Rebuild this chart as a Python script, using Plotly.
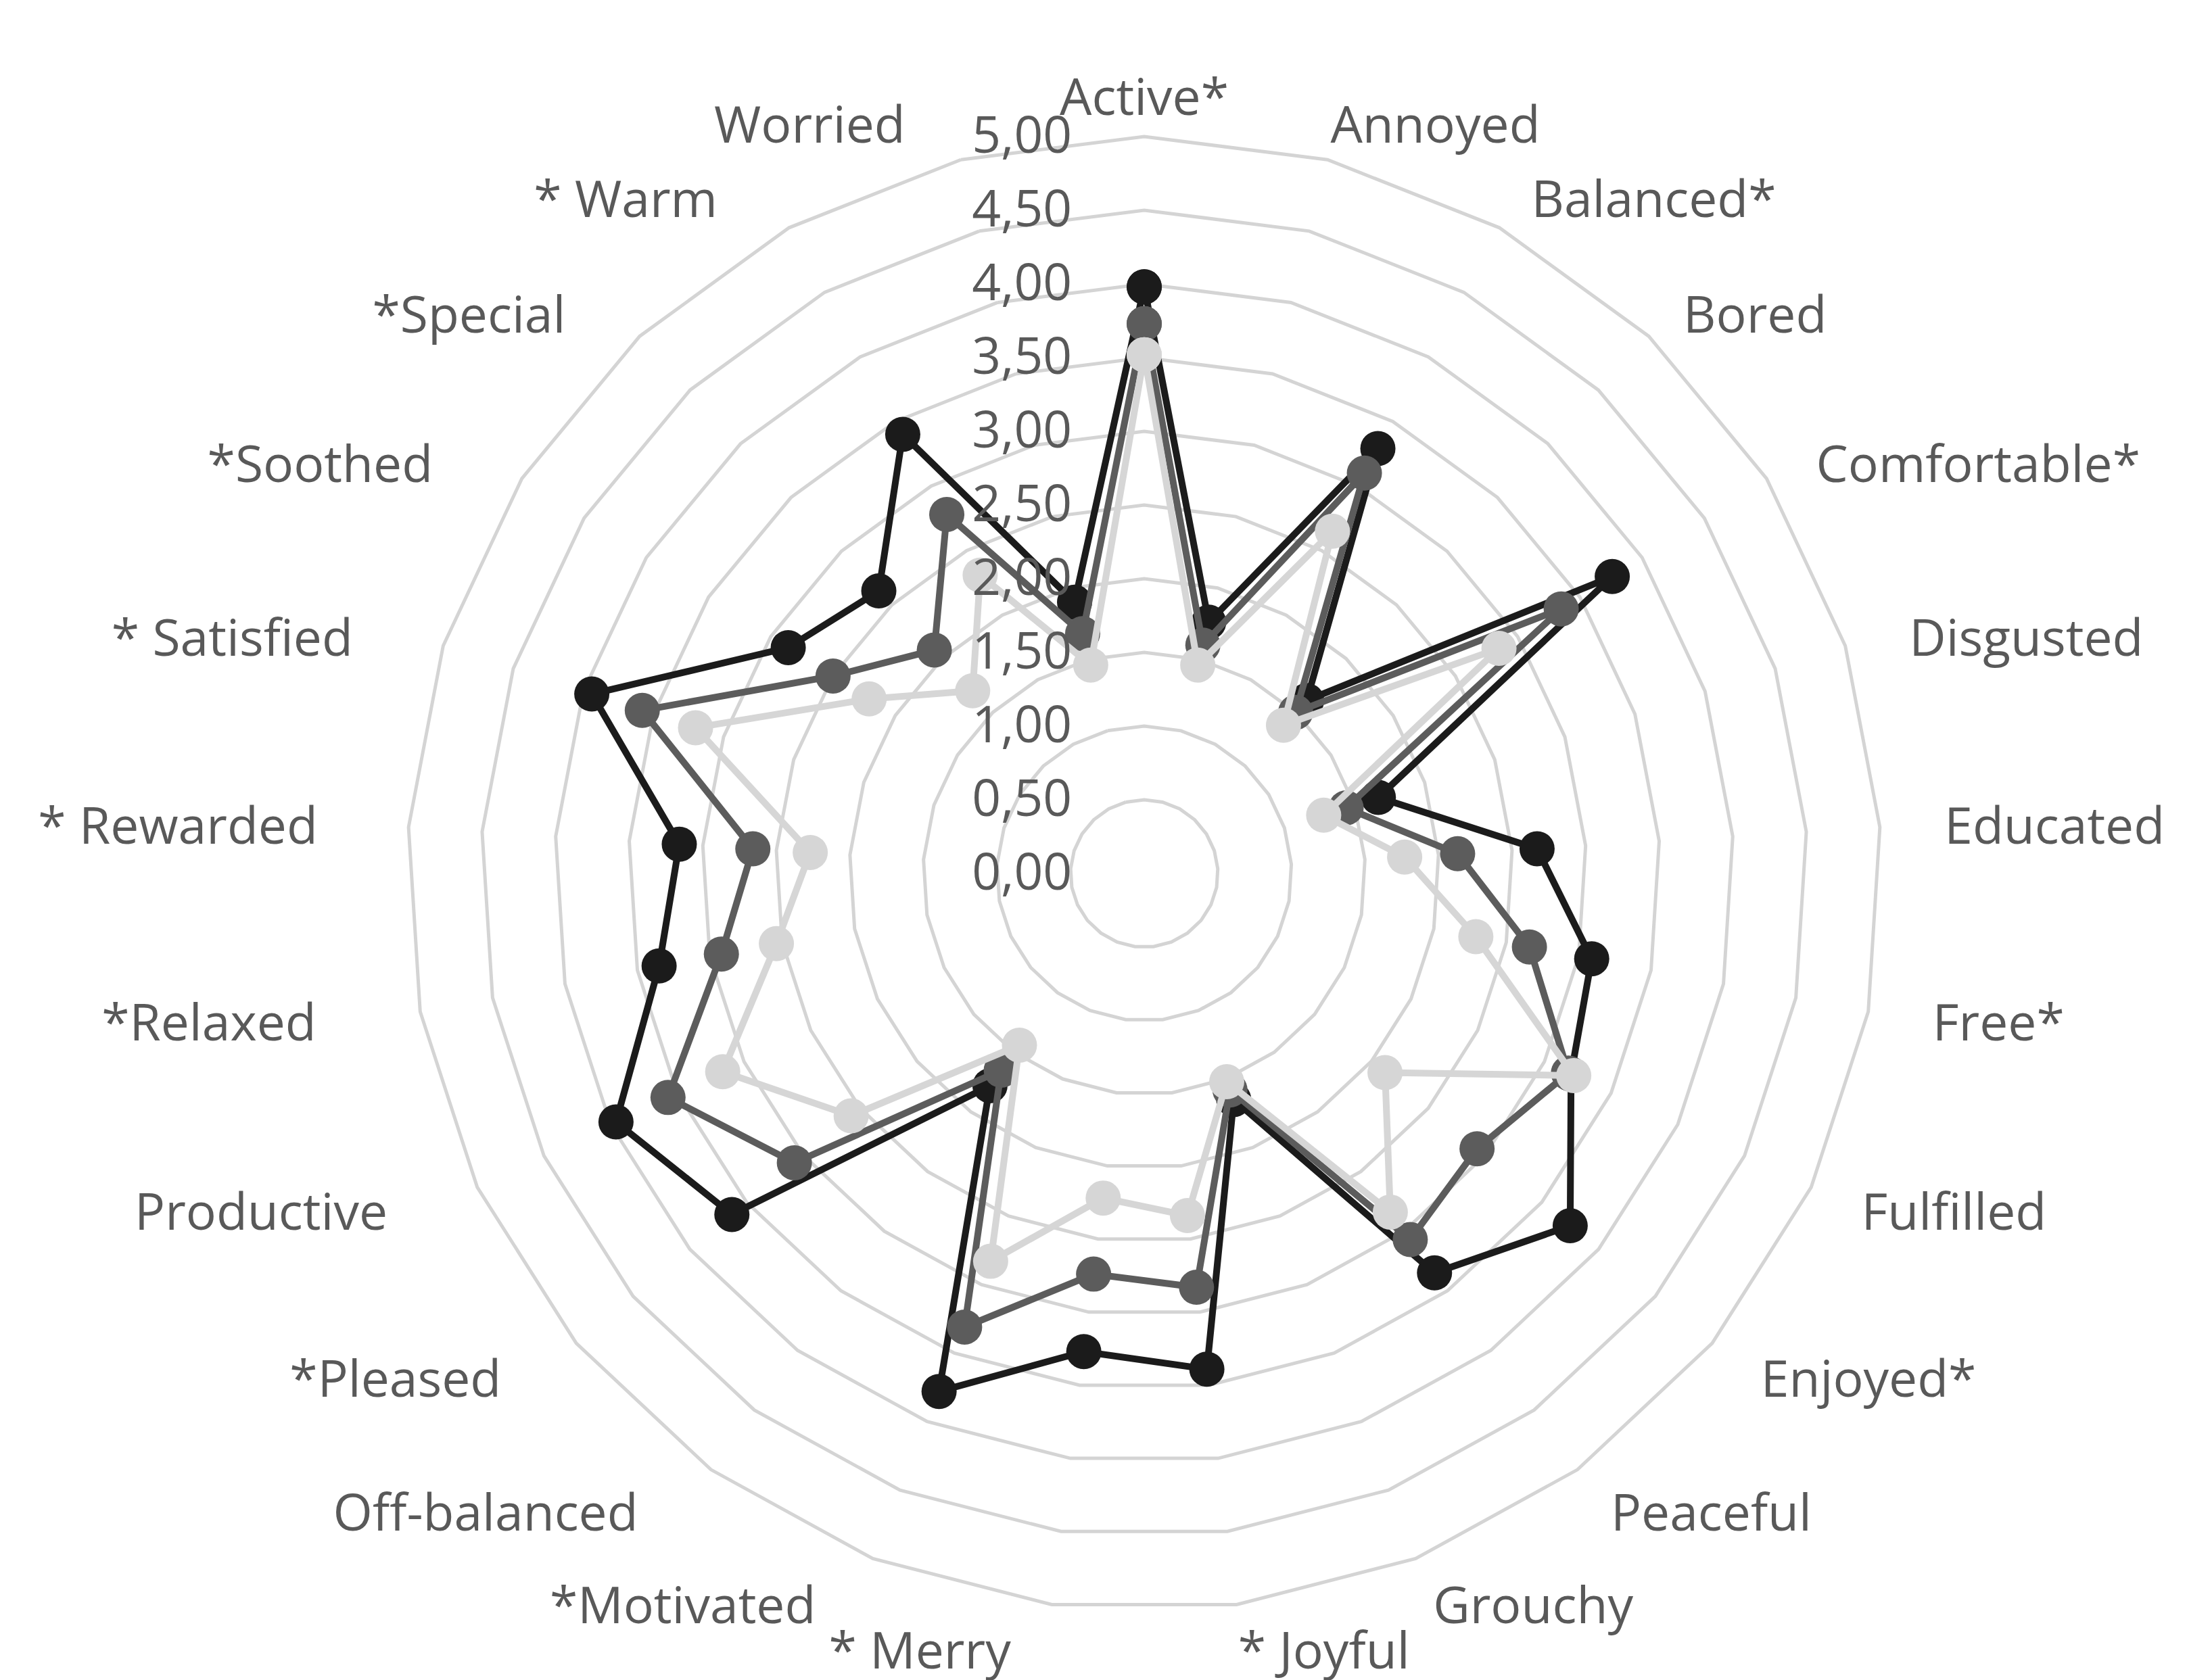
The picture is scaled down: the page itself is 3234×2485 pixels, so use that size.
import plotly.graph_objects as go

categories = ["Active", "Annoyed", "Balanced", "Bored", "Comfortable", "Disgusted",
              "Educated", "Free", "Fulfilled", "Enjoyed", "Peaceful", "Grouchy",
              "Joyful", "Merry", "Motivated", "Off-balanced", "Pleased", "Productive",
              "Relaxed", "Rewarded", "Satisfied", "Soothed", "Special", "Warm", "Worried"]

category_labels = ["Active*", "Annoyed", "Balanced*", "Bored", "Comfortable*", "Disgusted",
                   "Educated", "Free*", "Fulfilled", "Enjoyed*", "Peaceful", "Grouchy",
                   "* Joyful", "* Merry", "*Motivated", "Off-balanced", "*Pleased", "Productive",
                   "*Relaxed", "* Rewarded", "* Satisfied", "*Soothed", "*Special", "* Warm", "Worried"]

series_black = [3.98, 1.76, 3.29, 1.61, 3.76, 1.67, 2.67, 3.09, 3.20, 3.75, 3.35, 1.65,
                3.39, 3.27, 3.78, 1.78, 3.63, 3.96, 3.35, 3.16, 3.94, 2.86, 2.63, 3.40, 1.90]
series_dark = [3.73, 1.60, 3.10, 1.50, 3.35, 1.44, 2.13, 2.66, 3.18, 2.93, 3.07, 1.58,
               2.83, 2.74, 3.31, 1.65, 3.08, 3.57, 2.92, 2.66, 3.58, 2.50, 2.08, 2.78, 1.68]
series_light = [3.52, 1.46, 2.65, 1.38, 2.85, 1.28, 1.77, 2.29, 3.22, 2.12, 2.84, 1.52,
                2.34, 2.22, 2.83, 1.44, 2.58, 3.16, 2.54, 2.27, 3.20, 2.21, 1.70, 2.31, 1.46]

radial_ticks = [0, 0.5, 1, 1.5, 2, 2.5, 3, 3.5, 4, 4.5, 5]
radial_tick_text = ["0,00", "0,50", "1,00", "1,50", "2,00", "2,50", "3,00", "3,50", "4,00", "4,50", "5,00"]

# label spacing (non-breaking spaces) to push the side labels outward like the original layout
NB = "\u00a0"
lead_pad = [0, 0, 2, 2, 3, 4, 4, 4, 3, 3, 2, 1, 0, 0, 0, 0, 0, 0, 0, 0, 0, 0, 0, 0, 0]
trail_pad = [0, 0, 0, 0, 0, 0, 0, 0, 0, 0, 0, 0, 0, 3, 4, 5, 5, 6, 7, 6, 6, 6, 5, 5, 4]
shown_labels = [NB * a + t + NB * b for t, a, b in zip(category_labels, lead_pad, trail_pad)]

styles = [
    (series_black, "#1b1b1b"),
    (series_dark, "#5c5c5c"),
    (series_light, "#d6d6d6"),
]

fig = go.Figure()
for vals, col in styles:
    fig.add_trace(go.Scatterpolar(
        r=vals + vals[:1],
        theta=categories + categories[:1],
        mode="lines+markers",
        line=dict(color=col, width=10),
        marker=dict(color=col, size=52),
        showlegend=False,
    ))

W, H = 3234, 2485
cx, cy, R = 1684, 1284, 1090
FONT = "Open Sans"
fig.update_layout(
    width=W, height=H,
    margin=dict(l=0, r=0, t=0, b=0),
    paper_bgcolor="white",
    plot_bgcolor="white",
    font=dict(family=FONT, size=75, color="#595959"),
    polar=dict(
        domain=dict(x=[(cx - R) / W, (cx + R) / W],
                    y=[(H - cy - R) / H, (H - cy + R) / H]),
        bgcolor="white",
        gridshape="linear",
        angularaxis=dict(
            rotation=90,
            direction="clockwise",
            type="category",
            categoryarray=categories,
            tickvals=categories,
            ticktext=shown_labels,
            showgrid=False,
            showline=True,
            linecolor="#d4d4d4",
            linewidth=5,
            ticks="",
            tickfont=dict(family=FONT, size=75, color="#595959"),
        ),
        radialaxis=dict(
            range=[0, 5],
            angle=90,
            tickangle=90,
            side="counterclockwise",
            tickvals=radial_ticks,
            ticktext=radial_tick_text,
            showline=False,
            ticks="outside",
            ticklen=80,
            tickcolor="rgba(0,0,0,0)",
            gridcolor="#d4d4d4",
            gridwidth=5,
            tickfont=dict(family=FONT, size=75, color="#595959"),
        ),
    ),
)

fig.write_html("out.html")
